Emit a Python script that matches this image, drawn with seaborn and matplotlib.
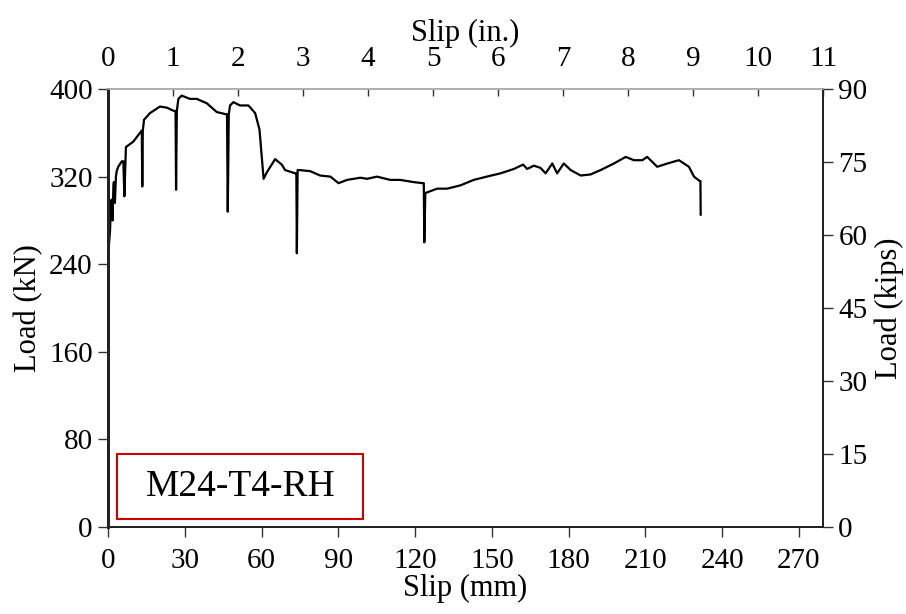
import matplotlib
matplotlib.use("Agg")
from matplotlib import pyplot as plt
from matplotlib.patches import Rectangle
import seaborn as sns
import pandas as pd

# load-slip curve (slip in mm, load in kN)
slip_mm = [0, 0.05, 0.1, 0.15, 0.3, 0.8, 1.1, 1.4, 1.8, 2.1, 2.3, 2.7, 3.1, 3.4,
           4.0, 5.4, 6.0, 6.4, 7.0, 9.9, 12.5, 13.2, 13.4, 13.6, 14.1, 16.4, 20.3,
           23.0, 25.8, 26.4, 26.6, 26.9, 27.5, 28.8, 32.0, 34.7, 38.6, 42.5, 46.0,
           46.5, 46.8, 47.2, 47.7, 49.0, 51.6, 54.9, 57.5, 59.2, 60.8, 62.1, 65.3,
           67.9, 69.2, 73.2, 73.6, 73.8, 74.1, 74.8, 79.0, 82.9, 86.9, 90.1, 93.4,
           98.6, 101.2, 105.1, 110.3, 114.2, 119.4, 123.1, 123.4, 123.6, 124.0,
           128.6, 132.5, 137.7, 142.9, 148.0, 153.4, 158.6, 162.2, 163.8, 166.4,
           169.0, 171.0, 173.6, 175.5, 178.1, 180.8, 184.7, 188.6, 192.5, 197.7,
           202.3, 205.5, 208.8, 210.7, 214.6, 218.6, 223.1, 227.0, 229.0, 231.2,
           231.5, 231.6]
load_kN = [0, 60, 140, 200, 255, 271, 290, 299, 280, 311, 315, 296, 320, 325,
           329, 334, 334, 302, 347, 352, 360, 362, 311, 362, 372, 378, 384,
           383, 380, 380, 308, 380, 391, 394, 391, 391, 387, 379, 377,
           377, 288, 377, 385, 388, 385, 385, 378, 363, 318, 324, 336,
           331, 326, 323, 323, 250, 326, 326, 325, 321, 320, 314, 317,
           319, 318, 320, 317, 317, 315, 314, 314, 260, 305,
           309, 309, 312, 317, 320, 323, 327, 331, 327, 330,
           328, 323, 332, 323, 332, 326, 321, 322, 326, 332,
           338, 335, 335, 338, 329, 332, 335, 329, 320, 316,
           316, 285]

x_ticks_mm = [0, 30, 60, 90, 120, 150, 180, 210, 240, 270]
y_ticks_kN = [0, 80, 160, 240, 320, 400]
x_ticks_in = list(range(0, 12))
y_ticks_kips = [0, 15, 30, 45, 60, 75, 90]
specimen = "M24-T4-RH"

MM_PER_IN = 25.4
KN_PER_KIP = 4.448222

df = pd.DataFrame({"slip": slip_mm, "load": load_kN})

sns.set_style("ticks")
plt.rcParams["font.family"] = ["Liberation Serif", "DejaVu Serif"]
plt.rcParams["text.color"] = "black"
plt.rcParams["axes.labelcolor"] = "black"
plt.rcParams["xtick.labelcolor"] = "black"
plt.rcParams["ytick.labelcolor"] = "black"

fig = plt.figure(figsize=(9.06, 6.14), dpi=100)
ax = fig.add_axes([0.1192, 0.1417, 0.7892, 0.7133])

sns.lineplot(data=df, x="slip", y="load", ax=ax, color="black", lw=1.6,
             sort=False, estimator=None)

xmax = 11 * MM_PER_IN
ymax = 400
ax.set_xlim(0, xmax)
ax.set_ylim(0, ymax)
ax.set_xticks(x_ticks_mm)
ax.set_yticks(y_ticks_kN)
ax.set_xlabel("Slip (mm)", fontsize=22, labelpad=0)
ax.set_ylabel("Load (kN)", fontsize=22, labelpad=4)
ax.tick_params(axis="x", labelsize=21, direction="out", length=7,
               width=1, color="#333333", pad=8)
ax.tick_params(axis="y", labelsize=21, direction="out", length=7,
               width=1, color="#333333", pad=4)

# top axis in inches
ax_top = ax.twiny()
ax_top.set_xlim(0, xmax / MM_PER_IN)
ax_top.set_xticks(x_ticks_in)
ax_top.set_xlabel("Slip (in.)", fontsize=22, labelpad=4)
ax_top.tick_params(axis="x", labelsize=21, direction="in", length=5,
                   width=1, color="#333333", pad=12)

# right axis in kips
ax_right = ax.twinx()
ax_right.set_ylim(0, ymax / KN_PER_KIP)
ax_right.set_yticks(y_ticks_kips)
ax_right.set_ylabel("Load (kips)", fontsize=22, labelpad=5)
ax_right.tick_params(axis="y", labelsize=21, direction="out", length=7,
                     width=1, color="#333333", pad=4)

for a in (ax, ax_top, ax_right):
    a.spines["top"].set_color("#b0b0b0")
    a.spines["top"].set_linewidth(1.2)
    for s in ("left", "right", "bottom"):
        a.spines[s].set_color("#222222")
        a.spines[s].set_linewidth(1.2)
    a.spines["left"].set_linewidth(2.0)

# specimen label box
ax.add_patch(Rectangle((0.0126, 0.018), 0.344, 0.149, transform=ax.transAxes,
                       fill=False, edgecolor="#cc0000", lw=1.5, zorder=5))
ax.text(0.185, 0.0925, specimen, transform=ax.transAxes, fontsize=27,
        ha="center", va="center", color="black", zorder=6)

fig.savefig("out.png", dpi=100)
